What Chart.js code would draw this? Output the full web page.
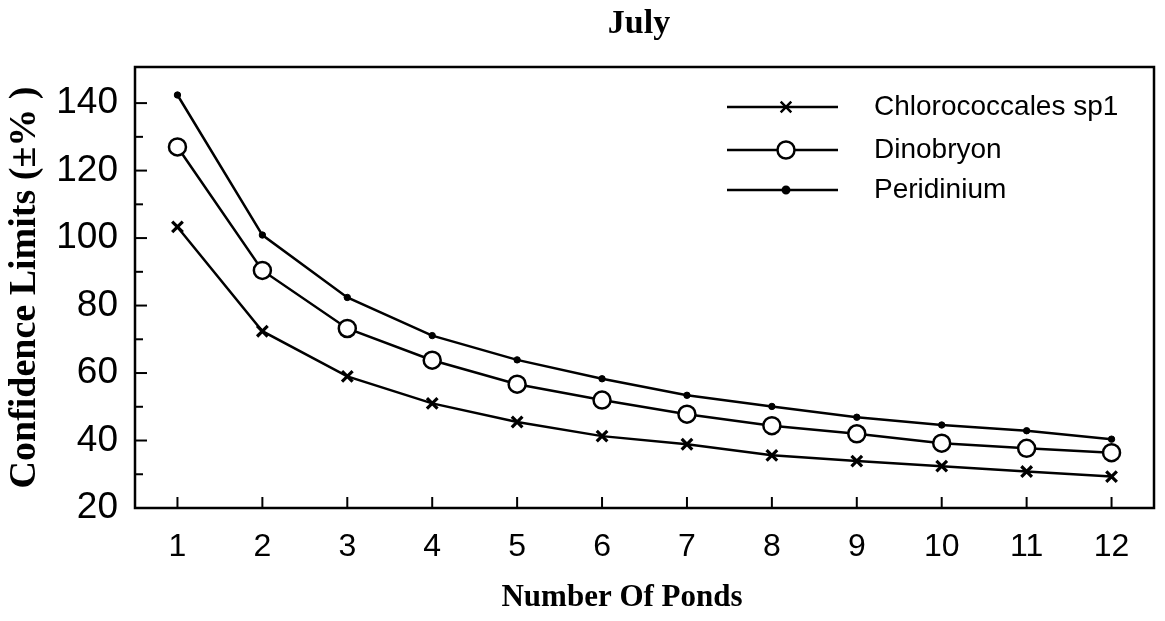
<!DOCTYPE html>
<html><head><meta charset="utf-8">
<script src="https://cdn.jsdelivr.net/npm/chart.js"></script>
<style>html,body{margin:0;padding:0;background:#fff}</style>
</head><body>
<div style="width:1165px;height:621px"><canvas id="c" width="1165" height="621"></canvas></div>
<script>
// ---- data ----
const ponds = [1, 2, 3, 4, 5, 6, 7, 8, 9, 10, 11, 12];
const chlorococcales = [103.3, 72.4, 59.0, 51.0, 45.5, 41.3, 38.9, 35.6, 33.9, 32.4, 30.8, 29.3];
const dinobryon = [127.0, 90.4, 73.2, 63.8, 56.7, 52.0, 47.8, 44.4, 42.0, 39.2, 37.7, 36.4];
const peridinium = [142.4, 100.9, 82.4, 71.1, 63.9, 58.3, 53.4, 50.1, 46.9, 44.6, 42.9, 40.4];
const seriesNames = ['Chlorococcales sp1', 'Dinobryon', 'Peridinium'];
const yTickLabels = [20, 40, 60, 80, 100, 120, 140];
const yMinorTicks = [30, 50, 70, 90, 110, 130];
const xTickLabels = ponds;
const chartTitle = 'July';
const xTitle = 'Number Of Ponds';
const yTitle = 'Confidence Limits (±% )';

const toPts = arr => ponds.map((p, i) => ({x: p, y: arr[i]}));

const frameTicks = {
  id: 'frameTicks',
  afterDraw(chart) {
    const {ctx, chartArea: a, scales: {x, y}} = chart;
    ctx.save();
    // titles
    ctx.fillStyle = '#000';
    ctx.font = 'bold 34px "Liberation Serif", "Times New Roman", serif';
    ctx.textAlign = 'center';
    ctx.textBaseline = 'middle';
    ctx.fillText(chartTitle, 639, 24);
    ctx.font = 'bold 31px "Liberation Serif", "Times New Roman", serif';
    ctx.fillText(xTitle, 622, 598);
    // frame
    ctx.strokeStyle = '#000';
    ctx.lineWidth = 2.5;
    ctx.strokeRect(a.left, a.top, a.right - a.left, a.bottom - a.top);
    ctx.lineWidth = 2;
    const line = (x1, y1, x2, y2) => { ctx.beginPath(); ctx.moveTo(x1, y1); ctx.lineTo(x2, y2); ctx.stroke(); };
    y.ticks.forEach(t => {
      const major = yTickLabels.includes(t.value);
      const py = y.getPixelForValue(t.value);
      line(a.left, py, a.left + (major ? 12 : 8), py);
    });
    x.ticks.forEach(t => {
      const px = x.getPixelForValue(t.value);
      line(px, a.bottom, px, a.bottom - 11);
    });
    // legend
    const rows = [107, 150, 190];
    chart.data.datasets.forEach((ds, i) => {
      const yy = rows[i];
      ctx.lineWidth = ds.borderWidth;
      ctx.strokeStyle = ds.borderColor;
      line(727, yy, 838, yy);
      ctx.fillStyle = ds.pointBackgroundColor;
      ctx.strokeStyle = ds.pointBorderColor;
      Chart.helpers.drawPoint(ctx, {pointStyle: ds.pointStyle, radius: ds.pointRadius, borderWidth: ds.pointBorderWidth, rotation: 0}, 786, yy);
      ctx.fillStyle = '#000';
      ctx.font = '28px "Liberation Sans", Arial, sans-serif';
      ctx.textBaseline = 'middle';
      ctx.textAlign = 'left';
      ctx.fillText(seriesNames[i], 874, yy);
    });
    ctx.restore();
  }
};

const common = {borderColor: '#000', borderWidth: 2.5, pointBorderColor: '#000', tension: 0, fill: false};

new Chart(document.getElementById('c'), {
  type: 'line',
  data: {
    datasets: [
      Object.assign({label: seriesNames[0], data: toPts(chlorococcales), pointStyle: 'crossRot', pointRadius: 7.5, pointBorderWidth: 3.2, pointBackgroundColor: '#000'}, common),
      Object.assign({label: seriesNames[1], data: toPts(dinobryon), pointStyle: 'circle', pointRadius: 8.5, pointBorderWidth: 2.5, pointBackgroundColor: '#fff'}, common),
      Object.assign({label: seriesNames[2], data: toPts(peridinium), pointStyle: 'circle', pointRadius: 3.2, pointBorderWidth: 1, pointBackgroundColor: '#000'}, common)
    ]
  },
  options: {
    responsive: false,
    animation: false,
    layout: {padding: {left: 0, right: 8, top: 67, bottom: 0}},
    plugins: {
      legend: {display: false},
      tooltip: {enabled: false},
      title: {display: false}
    },
    scales: {
      x: {
        type: 'linear', min: 0.5, max: 12.5,
        afterFit: s => { s.height = 113; },
        afterBuildTicks: s => { s.ticks = xTickLabels.map(v => ({value: v})); },
        grid: {display: false, drawTicks: false},
        border: {display: false},
        ticks: {autoSkip: false, maxRotation: 0, padding: 20, color: '#000',
          font: {family: '"Liberation Sans", Arial, sans-serif', size: 32},
          callback: v => String(v)},
        title: {display: false}
      },
      y: {
        type: 'linear', min: 20, max: 150.7,
        afterFit: s => { s.width = 135; },
        afterBuildTicks: s => { s.ticks = yTickLabels.concat(yMinorTicks).sort((a, b) => a - b).map(v => ({value: v})); },
        grid: {display: false, drawTicks: false},
        border: {display: false},
        ticks: {autoSkip: false, padding: 17, color: '#000',
          font: {family: '"Liberation Sans", Arial, sans-serif', size: 37},
          callback: v => yTickLabels.includes(v) ? String(v) : ''},
        title: {display: true, text: yTitle, color: '#000',
          font: {family: '"Liberation Serif", "Times New Roman", serif', size: 38, weight: 'bold'},
          padding: {top: 2, bottom: 0}}
      }
    }
  },
  plugins: [frameTicks]
});
</script>
</body></html>
